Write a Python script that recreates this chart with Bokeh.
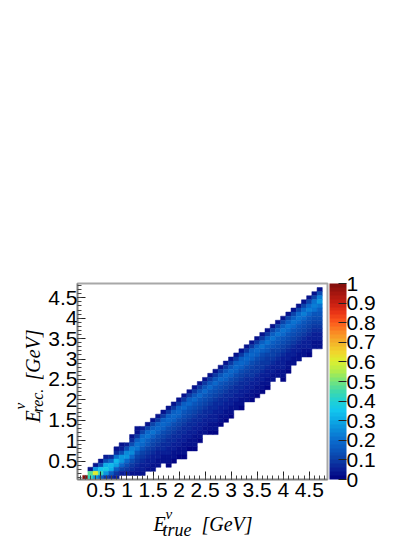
from bokeh.plotting import figure
from bokeh.layouts import row, column
from bokeh.models import ColumnDataSource, LinearColorMapper, ColorBar, FixedTicker, Label
from bokeh.embed import file_html
from bokeh.resources import INLINE
import numpy as np

x_ticks = [0.5, 1, 1.5, 2, 2.5, 3, 3.5, 4, 4.5]
x_tick_labels = ["0.5", "1", "1.5", "2", "2.5", "3", "3.5", "4", "4.5"]
bar_ticks = [0, 0.1, 0.2, 0.3, 0.4, 0.5, 0.6, 0.7, 0.8, 0.9, 1]
bar_tick_labels = ["0", "0.1", "0.2", "0.3", "0.4", "0.5", "0.6", "0.7", "0.8", "0.9", "1"]
bin_width = 0.1
first_edge = 0.05
last_edge = 4.85

# index of the highest filled row of each column, columns 1..46
column_tops = [0, 2, 3, 4, 5, 5, 7, 8, 8, 10, 12, 12] + list(range(13, 47))

# cell values of each column, read from the highest filled row downward
column_values = [
    [1.0],
    [.03, .47, .42],
    [.03, .27, .60, .26],
    [.03, .12, .35, .42, .17],
    [.04, .12, .30, .37, .26, .09],
    [.06, .18, .33, .30, .17, .07],
    [.03, .06, .20, .32, .28, .17, .09, .04],
    [.03, .05, .13, .26, .27, .19, .11, .05],
    [.05, .13, .25, .26, .19, .13, .08, .04],
    [.03, .06, .13, .22, .24, .19, .13, .09, .06, .03],
    [.02, .03, .08, .16, .21, .20, .15, .11, .08, .06, .04, .02],
    [.04, .10, .18, .21, .18, .14, .11, .08, .06, .05, .04, .02],
    [.03, .10, .18, .20, .17, .14, .11, .08, .06, .05, .04, .02],
    [.03, .10, .17, .20, .17, .13, .11, .08, .07, .05, .04, .03, .02],
    [.03, .09, .17, .19, .17, .13, .10, .08, .07, .05, .04, .03, .02],
    [.03, .09, .16, .19, .16, .13, .10, .08, .07, .06, .04, .03, .02],
    [.03, .09, .16, .19, .16, .13, .10, .08, .07, .06, .05, .04, .03, .02, .01],
    [.03, .09, .16, .18, .16, .13, .10, .08, .07, .06, .05, .04, .03, .02, .01],
    [.03, .09, .16, .18, .16, .12, .10, .09, .07, .06, .05, .04, .03, .02, .01],
    [.03, .09, .16, .18, .15, .12, .10, .09, .07, .06, .05, .04, .03, .03, .02, .01],
    [.03, .09, .16, .18, .15, .12, .10, .08, .07, .06, .05, .04, .03, .02, .01],
    [.03, .09, .15, .18, .15, .12, .10, .08, .07, .06, .05, .04, .03, .03, .02, .01],
    [.03, .09, .15, .18, .15, .12, .10, .08, .07, .06, .05, .04, .03, .02, .01],
    [.03, .09, .15, .18, .15, .12, .10, .08, .07, .06, .05, .04, .03, .02],
    [.03, .09, .15, .18, .15, .12, .10, .08, .07, .06, .05, .04, .03, .02, .01],
    [.03, .09, .15, .18, .15, .12, .10, .08, .07, .06, .05, .04, .04, .03, .02, .01],
    [.03, .09, .15, .18, .15, .13, .10, .08, .07, .06, .05, .04, .03, .02, .01],
    [.03, .09, .15, .18, .16, .13, .10, .09, .07, .06, .05, .04, .03, .02, .01],
    [.03, .09, .15, .19, .16, .13, .10, .09, .07, .06, .05, .04, .03, .02, .01],
    [.03, .09, .16, .19, .16, .13, .11, .09, .07, .06, .05, .04, .03, .02],
    [.03, .09, .16, .19, .16, .13, .11, .09, .07, .06, .05, .04, .03, .02, .01],
    [.03, .09, .16, .19, .16, .13, .11, .09, .07, .06, .05, .04, .03, .02],
    [.03, .09, .16, .19, .16, .13, .11, .09, .08, .06, .05, .04, .03, .02, .01],
    [.03, .09, .16, .19, .16, .13, .11, .09, .08, .06, .05, .04, .03, .02, .01],
    [.03, .09, .16, .20, .17, .13, .11, .09, .08, .06, .05, .04, .03, .02, .01],
    [.03, .09, .17, .20, .17, .14, .11, .09, .08, .06, .05, .04, .03, .02, .01],
    [.03, .10, .17, .20, .17, .14, .11, .10, .08, .06, .05, .04, .03, .02],
    [.03, .10, .17, .20, .17, .14, .12, .10, .08, .06, .05, .04, .03, .02],
    [.03, .10, .17, .20, .18, .14, .12, .10, .08, .07, .05, .05, .04, .03, .02, .01],
    [.03, .10, .17, .21, .18, .14, .12, .10, .08, .07, .05, .04, .03, .02, .01],
    [.03, .10, .17, .21, .18, .14, .12, .10, .08, .07, .05, .04, .03, .02],
    [.03, .10, .18, .21, .18, .15, .12, .10, .08, .07, .05, .04, .03, .02],
    [.03, .11, .18, .22, .19, .15, .12, .10, .09, .07, .05, .04, .03, .02],
    [.03, .11, .19, .22, .19, .15, .13, .11, .09, .07, .05, .05, .04, .03, .01],
    [.03, .11, .20, .23, .20, .15, .13, .11, .09, .07, .05, .04, .03, .02],
    [.03, .12, .23, .26, .21, .17, .14, .12, .10, .08, .07, .05, .04, .03, .02],
]

palette_stops = [0, .05, .1, .15, .2, .25, .3, .35, .4, .45, .5, .55, .6, .65, .7, .75, .8, .85, .9, .95, 1]
palette_colors = ["#00007f", "#0a1f96", "#0b3ea6", "#0a55bb", "#0a6cce", "#0a8ad9", "#0ca9e6", "#12c6ee",
                  "#1fd0d6", "#3ed9ac", "#74e47c", "#b0ec4c", "#dcf030", "#f0d62c", "#f4b22a", "#fa8a24",
                  "#fd5a1c", "#e93416", "#c91f12", "#a5160f", "#7f0f0c"]


def ramp(stops, colors, n=50):
    rgb = np.array([[int(c[i:i + 2], 16) for i in (1, 3, 5)] for c in colors], float)
    levels = (np.arange(n) + 0.5) / n
    return ["#%02x%02x%02x" % tuple(int(round(np.interp(v, stops, rgb[:, i]))) for i in range(3)) for v in levels]


left, right, bottom, top, vals = [], [], [], [], []
for k, (tp, col) in enumerate(zip(column_tops, column_values), start=1):
    for d, v in enumerate(col):
        j = tp - d
        left.append(first_edge + bin_width * k)
        right.append(first_edge + bin_width * (k + 1))
        bottom.append(first_edge + bin_width * j)
        top.append(first_edge + bin_width * (j + 1))
        vals.append(v)

src = ColumnDataSource(dict(left=left, right=right, bottom=bottom, top=top, v=vals))
mapper = LinearColorMapper(palette=ramp(palette_stops, palette_colors), low=0, high=1)

p = figure(width=366, height=511, output_backend="svg", toolbar_location=None,
           x_range=(first_edge, last_edge), y_range=(first_edge, last_edge),
           min_border_left=33, min_border_right=83, min_border_top=283, min_border_bottom=32,
           background_fill_color="white", border_fill_color="white", title=None, frame_align=False)
p.quad(left="left", right="right", bottom="bottom", top="top", source=src,
       fill_color={"field": "v", "transform": mapper},
       line_color={"field": "v", "transform": mapper}, line_width=0.5)

p.grid.visible = False
p.outline_line_color = "#a8a8a8"
p.outline_line_width = 2

minor = [round(first_edge + 0.05 + 0.1 * i, 1) for i in range(48)]
for ax, ticks in ((p.xaxis[0], x_ticks), (p.yaxis[0], x_ticks)):
    ax.ticker = FixedTicker(ticks=ticks, minor_ticks=minor)
    ax.major_label_overrides = dict(zip(ticks, x_tick_labels))
    ax.major_tick_in = 8
    ax.major_tick_out = 0
    ax.minor_tick_in = 4
    ax.minor_tick_out = 0
    ax.major_tick_line_color = "#222222"
    ax.minor_tick_line_color = "#444444"
    ax.axis_line_color = "#808080"
    ax.axis_line_width = 1.5
    ax.major_label_text_font = "Liberation Sans"
    ax.major_label_text_font_size = "21px"
    ax.major_label_text_color = "black"
    ax.major_label_standoff = 3
p.yaxis[0].major_label_orientation = "horizontal"
p.yaxis[0].major_label_standoff = 0

bar = ColorBar(color_mapper=mapper, location=(252, 0), width=17, height=196, padding=0,
               ticker=FixedTicker(ticks=bar_ticks), major_label_overrides=dict(zip(bar_ticks, bar_tick_labels)),
               major_tick_in=8, major_tick_line_color="#222222", minor_tick_line_color=None,
               major_label_text_font="Liberation Sans", major_label_text_font_size="21px",
               major_label_text_color="black", label_standoff=0, bar_line_color=None,
               border_line_color=None, background_fill_color=None)
p.add_layout(bar)


def strip(width, height):
    f = figure(width=width, height=height, output_backend="svg", toolbar_location=None,
               x_axis_location=None, y_axis_location=None, min_border=0, frame_align=False,
               x_range=(0, 1), y_range=(0, 1), title=None)
    f.grid.visible = False
    f.outline_line_color = None
    return f


def txt(f, x, y, s, size, angle=0.0):
    f.add_layout(Label(x=x, y=y, x_units="screen", y_units="screen", text=s, angle=angle,
                       text_font="Liberation Serif", text_font_style="italic",
                       text_font_size=f"{size}px", text_color="black",
                       text_align="left", text_baseline="alphabetic"))


# y axis title strip
ylab = strip(44, 511)
ang = np.pi / 2
txt(ylab, 32, 89, "E", 20, ang)
txt(ylab, 19, 102, "ν", 15, ang)
txt(ylab, 37, 99, "rec.", 16, ang)
txt(ylab, 32, 131, "[GeV]", 20, ang)

# x axis title strip
xlab = strip(410, 34)
xlab.margin = (-8, 0, 0, 0)
txt(xlab, 153, 14, "E", 20)
txt(xlab, 165, 24, "ν", 15)
txt(xlab, 162, 8, "true", 18)
txt(xlab, 201, 14, "[GeV]", 20)

layout = column(row(ylab, p), xlab)
open("out.html", "w").write(file_html(layout, INLINE))
